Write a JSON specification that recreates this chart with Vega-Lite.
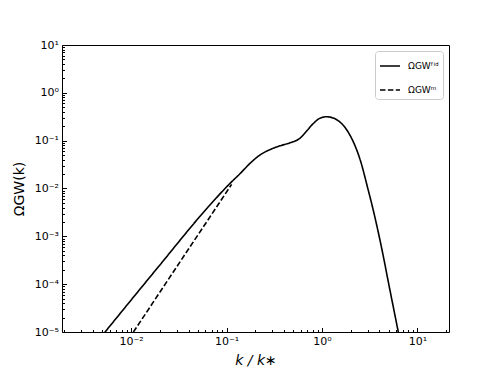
{
  "$schema": "https://vega.github.io/schema/vega-lite/v6.json",
  "width": 387,
  "height": 287,
  "autosize": {"type": "none"},
  "padding": {"left": 62, "top": 45, "right": 49, "bottom": 42},
  "background": "white",
  "config": {
    "font": "DejaVu Sans",
    "view": {"stroke": "black", "strokeWidth": 1},
    "axis": {"domain": false, "grid": false, "labelFont": "DejaVu Sans", "labelFontSize": 11, "labelColor": "black", "tickColor": "black", "titleColor": "black", "titleFont": "DejaVu Sans", "titleFontWeight": "normal"}
  },
  "data": {"values": [
    {"k": 0.0048, "omega": 7.7e-6, "series": "fid"},
    {"k": 0.00534, "omega": 1.0e-5, "series": "fid"},
    {"k": 0.0193, "omega": 2.30e-4, "series": "fid"},
    {"k": 0.0644, "omega": 4.14e-3, "series": "fid"},
    {"k": 0.1088, "omega": 0.0128, "series": "fid"},
    {"k": 0.138, "omega": 0.0203, "series": "fid"},
    {"k": 0.176, "omega": 0.0335, "series": "fid"},
    {"k": 0.225, "omega": 0.0505, "series": "fid"},
    {"k": 0.285, "omega": 0.065, "series": "fid"},
    {"k": 0.363, "omega": 0.078, "series": "fid"},
    {"k": 0.462, "omega": 0.090, "series": "fid"},
    {"k": 0.589, "omega": 0.113, "series": "fid"},
    {"k": 0.692, "omega": 0.160, "series": "fid"},
    {"k": 0.811, "omega": 0.228, "series": "fid"},
    {"k": 0.953, "omega": 0.295, "series": "fid"},
    {"k": 1.12, "omega": 0.316, "series": "fid"},
    {"k": 1.31, "omega": 0.298, "series": "fid"},
    {"k": 1.54, "omega": 0.245, "series": "fid"},
    {"k": 1.74, "omega": 0.190, "series": "fid"},
    {"k": 1.96, "omega": 0.131, "series": "fid"},
    {"k": 2.22, "omega": 0.078, "series": "fid"},
    {"k": 2.50, "omega": 0.0410, "series": "fid"},
    {"k": 3.05, "omega": 0.00927, "series": "fid"},
    {"k": 3.31, "omega": 0.00488, "series": "fid"},
    {"k": 4.05, "omega": 8.34e-4, "series": "fid"},
    {"k": 5.15, "omega": 7.5e-5, "series": "fid"},
    {"k": 6.30, "omega": 1.0e-5, "series": "fid"},
    {"k": 6.6, "omega": 6.3e-6, "series": "fid"},
    {"k": 0.0095, "omega": 7.3e-6, "series": "m"},
    {"k": 0.01057, "omega": 1.0e-5, "series": "m"},
    {"k": 0.02, "omega": 6.78e-5, "series": "m"},
    {"k": 0.04, "omega": 5.42e-4, "series": "m"},
    {"k": 0.07, "omega": 2.90e-3, "series": "m"},
    {"k": 0.113, "omega": 0.0122, "series": "m"}
  ]},
  "mark": {"type": "line", "clip": true, "color": "black", "strokeWidth": 1.6, "interpolate": "monotone"},
  "encoding": {
    "x": {
      "field": "k", "type": "quantitative",
      "scale": {"type": "log", "domain": [0.00189, 21.4], "nice": false},
      "axis": {
        "title": "k / k∗", "titleFontSize": 14, "titleFontStyle": "italic", "titlePadding": 5,
        "values": [0.002,0.003,0.004,0.005,0.006,0.007,0.008,0.009,0.01,0.02,0.03,0.04,0.05,0.06,0.07,0.08,0.09,0.1,0.2,0.3,0.4,0.5,0.6,0.7,0.8,0.9,1,2,3,4,5,6,7,8,9,10,20],
        "tickSize": {"condition": {"test": "abs(log(datum.value)/LN10 - round(log(datum.value)/LN10)) < 1e-6", "value": -4.5}, "value": -2.5},
        "labelPadding": 8, "labelOverlap": false, "labelFlush": false,
        "labelExpr": "abs(log(datum.value)/LN10 - round(log(datum.value)/LN10)) < 1e-6 ? '10' + replace(replace(replace(replace(replace(replace(replace(toString(round(log(datum.value)/LN10)),'-','⁻'),'0','⁰'),'1','¹'),'2','²'),'3','³'),'4','⁴'),'5','⁵') : ''"
      }
    },
    "y": {
      "field": "omega", "type": "quantitative",
      "scale": {"type": "log", "domain": [1e-5, 10], "nice": false},
      "axis": {
        "title": "ΩGW(k)", "titleFontSize": 14, "titlePadding": 8,
        "values": [1e-5,2e-5,3e-5,4e-5,5e-5,6e-5,7e-5,8e-5,9e-5,1e-4,2e-4,3e-4,4e-4,5e-4,6e-4,7e-4,8e-4,9e-4,1e-3,2e-3,3e-3,4e-3,5e-3,6e-3,7e-3,8e-3,9e-3,0.01,0.02,0.03,0.04,0.05,0.06,0.07,0.08,0.09,0.1,0.2,0.3,0.4,0.5,0.6,0.7,0.8,0.9,1,2,3,4,5,6,7,8,9,10],
        "tickSize": {"condition": {"test": "abs(log(datum.value)/LN10 - round(log(datum.value)/LN10)) < 1e-6", "value": -4.5}, "value": -2.5},
        "labelPadding": 8, "labelOverlap": false, "labelFlush": false,
        "labelExpr": "abs(log(datum.value)/LN10 - round(log(datum.value)/LN10)) < 1e-6 ? '10' + replace(replace(replace(replace(replace(replace(replace(toString(round(log(datum.value)/LN10)),'-','⁻'),'0','⁰'),'1','¹'),'2','²'),'3','³'),'4','⁴'),'5','⁵') : ''"
      }
    },
    "strokeDash": {
      "field": "series", "type": "nominal",
      "scale": {"domain": ["fid", "m"], "range": [[1, 0], [5.5, 2.4]]},
      "legend": {
        "title": null, "orient": "top-right", "offset": 6,
        "labelExpr": "datum.value == 'fid' ? 'ΩGWᶠⁱᵈ' : 'ΩGWᵐ'",
        "labelFontSize": 9, "labelColor": "black",
        "symbolType": "stroke", "symbolSize": 400, "symbolStrokeColor": "black", "symbolStrokeWidth": 1.6,
        "strokeColor": "#cccccc", "fillColor": "white", "cornerRadius": 3, "padding": 4, "rowPadding": 8, "labelOffset": 7
      }
    }
  }
}
